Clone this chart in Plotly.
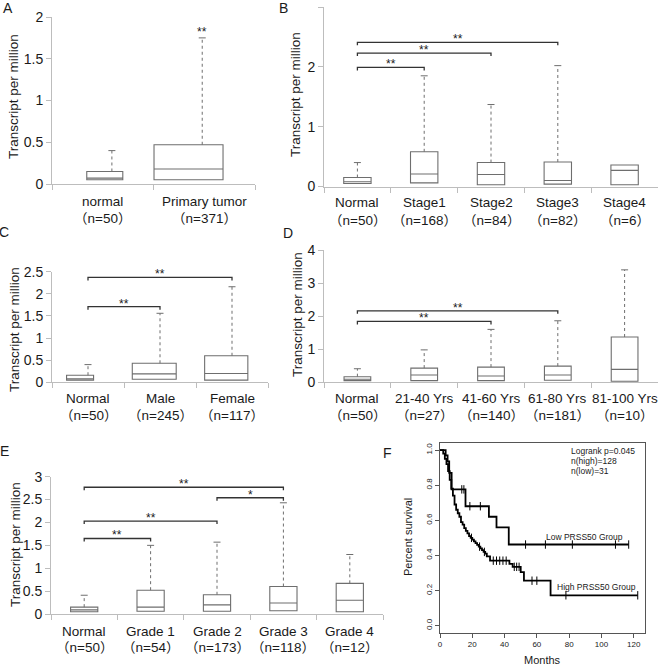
import numpy as np
import plotly.graph_objects as go

W, H = 658, 666
FONT = "Liberation Sans, Arial, Noto Sans CJK SC, sans-serif"
CJK = "Noto Sans CJK SC"
TXT = "#1a1a1a"

# ---------------- data ----------------
A_cats = ["normal", "Primary tumor"]
A_n = ["（n=50）", "（n=371）"]
A_q1 = [0.05, 0.05]
A_med = [0.07, 0.18]
A_q3 = [0.15, 0.47]
A_max = [0.40, 1.75]
A_star = ["", "**"]

B_cats = ["Normal", "Stage1", "Stage2", "Stage3", "Stage4"]
B_n = ["（n=50）", "（n=168）", "（n=84）", "（n=82）", "（n=6）"]
B_q1 = [0.05, 0.06, 0.03, 0.04, 0.03]
B_med = [0.08, 0.21, 0.20, 0.10, 0.27]
B_q3 = [0.15, 0.58, 0.40, 0.41, 0.36]
B_max = [0.40, 1.85, 1.37, 2.02, 0.36]
B_brackets = [(0, 1, 1.99, "**"), (0, 2, 2.23, "**"), (0, 3, 2.41, "**")]

C_cats = ["Normal", "Male", "Female"]
C_n = ["（n=50）", "（n=245）", "（n=117）"]
C_q1 = [0.05, 0.07, 0.05]
C_med = [0.08, 0.19, 0.20]
C_q3 = [0.16, 0.43, 0.60]
C_max = [0.40, 1.56, 2.16]
C_brackets = [(0, 1, 1.71, "**"), (0, 2, 2.37, "**")]

D_cats = ["Normal", "21-40 Yrs", "41-60 Yrs", "61-80 Yrs", "81-100 Yrs"]
D_n = ["（n=50）", "（n=27）", "（n=140）", "（n=181）", "（n=10）"]
D_q1 = [0.05, 0.05, 0.05, 0.06, 0.03]
D_med = [0.09, 0.22, 0.19, 0.22, 0.39]
D_q3 = [0.17, 0.43, 0.46, 0.49, 1.37]
D_max = [0.41, 0.98, 1.60, 1.86, 3.40]
D_brackets = [(0, 2, 1.84, "**"), (0, 3, 2.16, "**")]

E_cats = ["Normal", "Grade 1", "Grade 2", "Grade 3", "Grade 4"]
E_n = ["（n=50）", "（n=54）", "（n=173）", "（n=118）", "（n=12）"]
E_q1 = [0.05, 0.06, 0.06, 0.07, 0.05]
E_med = [0.09, 0.15, 0.20, 0.24, 0.30]
E_q3 = [0.15, 0.52, 0.42, 0.60, 0.67]
E_max = [0.41, 1.50, 1.57, 2.43, 1.30]
E_brackets = [(0, 1, 1.65, "**"), (0, 2, 2.03, "**"), (2, 3, 2.54, "*"), (0, 3, 2.77, "**")]

# Kaplan-Meier (panel F)
high_t = [0, 2, 3, 4, 5, 6, 7, 8, 9, 10, 11, 12, 13, 14, 15, 16, 17, 18, 19, 20,
          21, 22, 23, 24, 25, 26, 27, 28, 29, 31, 43, 45, 50, 52, 68.5]
high_s = [1.0, 0.98, 0.95, 0.92, 0.88, 0.83, 0.78, 0.74, 0.69, 0.66, 0.64, 0.62, 0.59,
          0.575, 0.555, 0.54, 0.525, 0.51, 0.50, 0.49, 0.48, 0.47, 0.46, 0.45, 0.44,
          0.43, 0.42, 0.41, 0.395, 0.37, 0.352, 0.335, 0.305, 0.256, 0.173]
high_end = 122.5
high_censor = [19.5, 24.5, 27.5, 33, 35, 37, 39, 41, 46, 47.5, 49, 57, 60, 78, 122.5]

low_t = [0, 3.5, 4.7, 5.7, 7.2, 15.8, 30.3, 35, 42.6]
low_s = [1.0, 0.97, 0.935, 0.87, 0.776, 0.68, 0.62, 0.56, 0.462]
low_end = 116.9
low_censor = [13.5, 14.8, 18.5, 25, 53, 65.3, 82, 108.7, 116.9]

km_texts = ["Logrank p=0.045", "n(high)=128", "n(low)=31"]

# ---------------- layout helpers ----------------
def px(x):
    return x / W

def py(y):
    return 1 - y / H

BOX_LINE = "#6e6e6e"
AXIS_LINE = "#bdbdbd"
BRACKET = "#333333"

def cjk_parens(s):
    for ch in ("（", "）"):
        s = s.replace(ch, "<span style=\"font-family:%s\">%s</span>" % (CJK, ch))
    return s

def ann(x, y, text, size, xanchor="center", yanchor="middle", **kw):
    d = dict(x=px(x), y=py(y), xref="paper", yref="paper", text=text, showarrow=False,
             xanchor=xanchor, yanchor=yanchor, font=dict(size=size, color=TXT, family=FONT))
    d.update(kw)
    return d

panels = [
    dict(k="", cats=A_cats, n=A_n, q1=A_q1, med=A_med, q3=A_q3, mx=A_max, br=[],
         xd=(52, 255), yd=(17, 184), yr=(0, 2), dt=0.5,
         bs=[0.02, -0.155], bw=[0.355, 0.68], ws=[0.09, -0.02],
         ly=(202, 217), tt=(13, 97), L="A", Lp=(8, 8)),
    dict(k="2", cats=B_cats, n=B_n, q1=B_q1, med=B_med, q3=B_q3, mx=B_max, br=B_brackets,
         xd=(324, 658), yd=(7, 186.5), yr=(0, 3), dt=1,
         bs=[0] * 5, bw=[0.41] * 5, ws=[0] * 5,
         ly=(202.5, 218.5), tt=(296, 95), L="B", Lp=(283, 8)),
    dict(k="3", cats=C_cats, n=C_n, q1=C_q1, med=C_med, q3=C_q3, mx=C_max, br=C_brackets,
         xd=(52, 268), yd=(271.7, 382.3), yr=(0, 2.5), dt=0.5,
         bs=[-0.11, -0.08, -0.08], bw=[0.375, 0.61, 0.6], ws=[0, 0, 0],
         ly=(398.5, 414), tt=(14, 330), L="C", Lp=(4, 232)),
    dict(k="4", cats=D_cats, n=D_n, q1=D_q1, med=D_med, q3=D_q3, mx=D_max, br=D_brackets,
         xd=(324, 658), yd=(250, 382.3), yr=(0, 4), dt=1,
         bs=[0] * 5, bw=[0.4] * 5, ws=[0] * 5,
         ly=(398.5, 414), tt=(297, 315), L="D", Lp=(288, 233)),
    dict(k="5", cats=E_cats, n=E_n, q1=E_q1, med=E_med, q3=E_q3, mx=E_max, br=E_brackets,
         xd=(51, 383), yd=(476.7, 614), yr=(0, 3), dt=0.5,
         bs=[0] * 5, bw=[0.41] * 5, ws=[0] * 5,
         ly=(631, 646), tt=(15, 545), L="E", Lp=(4, 451)),
]

fig = go.Figure()
annotations = []
layout = {}

for p in panels:
    k = p["k"]
    xa, ya = "x" + k, "y" + k
    ncat = len(p["cats"])
    pos = list(range(ncat))
    yspan = p["yr"][1] - p["yr"][0]
    ypx = p["yd"][1] - p["yd"][0]
    u = yspan / ypx  # data units per pixel

    for i in pos:
        fig.add_trace(go.Box(
            x=[i + p["bs"][i]], q1=[p["q1"][i]], median=[p["med"][i]], q3=[p["q3"][i]],
            lowerfence=[p["q1"][i]], upperfence=[p["q3"][i]], width=p["bw"][i],
            line=dict(color=BOX_LINE, width=1.1), fillcolor="rgba(255,255,255,0)",
            whiskerwidth=0, boxpoints=False, xaxis=xa, yaxis=ya, showlegend=False,
            hoverinfo="skip"))
        if p["mx"][i] > p["q3"][i] + 1e-9:
            wx = i + p["ws"][i]
            fig.add_trace(go.Scatter(
                x=[wx, wx], y=[p["q3"][i], p["mx"][i]], mode="lines",
                line=dict(color=BOX_LINE, width=1, dash="dot"),
                xaxis=xa, yaxis=ya, showlegend=False, hoverinfo="skip"))
            fig.add_trace(go.Scatter(
                x=[wx], y=[p["mx"][i]], mode="markers",
                marker=dict(symbol="line-ew", size=5, line=dict(color=BOX_LINE, width=1)),
                xaxis=xa, yaxis=ya, showlegend=False, hoverinfo="skip"))
        for line_y, txt in ((p["ly"][0], p["cats"][i]), (p["ly"][1], cjk_parens(p["n"][i]))):
            annotations.append(dict(x=i, y=py(line_y), xref=xa, yref="paper", text=txt,
                                    showarrow=False, xanchor="center", yanchor="middle",
                                    font=dict(size=13.5, color=TXT, family=FONT)))

    leg = 3 * u
    for (a, b, h, s) in p["br"]:
        xa_ = a + p["ws"][a]
        xb_ = b + p["ws"][b]
        fig.add_trace(go.Scatter(
            x=[xa_, xa_, xb_, xb_], y=[h - leg, h, h, h - leg], mode="lines",
            line=dict(color=BRACKET, width=1.3), xaxis=xa, yaxis=ya,
            showlegend=False, hoverinfo="skip"))
        annotations.append(dict(x=(xa_ + xb_) / 2, y=h, xref=xa, yref=ya, text=s,
                                showarrow=False, xanchor="center", yanchor="middle", yshift=3,
                                font=dict(size=12, color=TXT, family=FONT)))
    if k == "":
        for i in pos:
            if A_star[i]:
                annotations.append(dict(x=i + p["ws"][i], y=p["mx"][i], xref=xa, yref=ya,
                                        text=A_star[i], showarrow=False, xanchor="center",
                                        yanchor="middle", yshift=6,
                                        font=dict(size=12, color=TXT, family=FONT)))

    layout["xaxis" + k] = dict(
        domain=[px(p["xd"][0]), px(p["xd"][1])], anchor=ya, range=[-0.5, ncat - 0.5],
        showgrid=False, zeroline=False, showline=True, linecolor=AXIS_LINE, linewidth=1,
        tickmode="array", tickvals=[j - 0.5 for j in range(ncat + 1)], ticks="outside",
        ticklen=5, tickcolor=AXIS_LINE, showticklabels=False, automargin=False,
        fixedrange=True)
    layout["yaxis" + k] = dict(
        domain=[py(p["yd"][1]), py(p["yd"][0])], anchor=xa, range=list(p["yr"]),
        showgrid=False, zeroline=False, showline=True, linecolor=AXIS_LINE, linewidth=1,
        tick0=0, dtick=p["dt"], ticks="outside", ticklen=5, tickcolor=AXIS_LINE,
        tickfont=dict(size=14, color=TXT, family=FONT), automargin=False, fixedrange=True)
    annotations.append(ann(p["tt"][0], p["tt"][1], "Transcript per million", 13.5,
                           textangle=-90))
    annotations.append(ann(p["Lp"][0], p["Lp"][1], p["L"], 14))

# ---------------- panel F: Kaplan-Meier ----------------
def step_at(ts, ss, c):
    idx = np.searchsorted(np.array(ts), c, side="right") - 1
    return np.array(ss)[idx]

for ts, ss, end, cens in [(high_t, high_s, high_end, high_censor),
                          (low_t, low_s, low_end, low_censor)]:
    fig.add_trace(go.Scatter(
        x=list(ts) + [end], y=list(ss) + [ss[-1]], mode="lines", line_shape="hv",
        line=dict(color="black", width=1.8), xaxis="x6", yaxis="y6",
        showlegend=False, hoverinfo="skip"))
    fig.add_trace(go.Scatter(
        x=cens, y=step_at(ts, ss, cens), mode="markers",
        marker=dict(symbol="line-ns", size=6, line=dict(color="black", width=1)),
        xaxis="x6", yaxis="y6", showlegend=False, hoverinfo="skip"))

layout["xaxis6"] = dict(domain=[px(440), px(645)], anchor="y6", range=[0, 127],
                        showgrid=False, zeroline=False, showline=True, mirror=True,
                        linecolor="#555555", linewidth=1, tickmode="array",
                        tickvals=[0, 20, 40, 60, 80, 100, 120], ticks="outside", ticklen=4,
                        tickcolor="#555555", tickfont=dict(size=8, color=TXT, family=FONT),
                        automargin=False, fixedrange=True)
layout["yaxis6"] = dict(domain=[py(632.7), py(443)], anchor="x6", range=[-0.04, 1.04],
                        showgrid=False, zeroline=False, showline=True, mirror=True,
                        linecolor="#555555", linewidth=1, tickmode="array",
                        tickvals=[0, 0.2, 0.4, 0.6, 0.8, 1.0], tickformat=".1f",
                        ticks="outside", ticklen=4, tickcolor="#555555", tickangle=-90,
                        tickfont=dict(size=8, color=TXT, family=FONT), automargin=False,
                        fixedrange=True)

annotations += [
    ann(408, 537, "Percent survival", 11, textangle=-90),
    ann(542, 660, "Months", 11),
    ann(387, 453, "F", 14),
]
for j, t in enumerate(km_texts):
    annotations.append(ann(569, 451 + 10 * j, t, 8.5, xanchor="left"))
annotations.append(ann(544, 537, "Low PRSS50 Group", 8.5, xanchor="left"))
annotations.append(ann(555, 587, "High PRSS50 Group", 8.5, xanchor="left"))

fig.update_layout(template="none", width=W, height=H, margin=dict(l=0, r=0, t=0, b=0, pad=0),
                  paper_bgcolor="white", plot_bgcolor="white", hovermode=False,
                  font=dict(family=FONT, color=TXT), annotations=annotations, **layout)

fig.write_html("out.html", config={"displayModeBar": False, "staticPlot": True},
               post_script="document.body.style.margin='0';document.body.style.padding='0';"
                           "document.body.style.overflow='hidden';")
